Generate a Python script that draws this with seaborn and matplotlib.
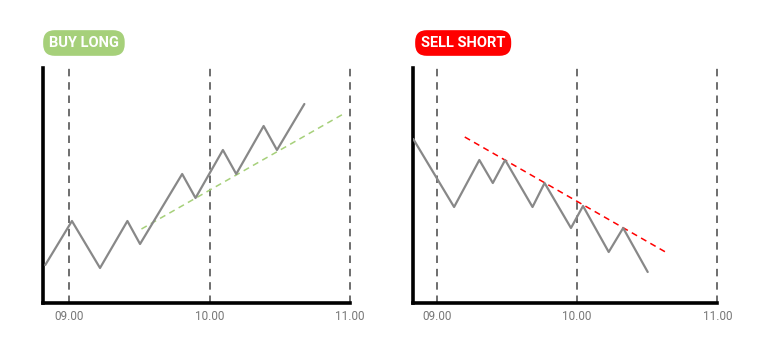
import matplotlib
matplotlib.use("Agg")
import matplotlib.pyplot as plt
import seaborn as sns
import pandas as pd

# ---- data ----
long_time = [8.83, 9.02, 9.22, 9.415, 9.505, 9.805, 9.90, 10.095, 10.19, 10.385, 10.48, 10.675]
long_price = [38, 82, 35, 82, 59, 129, 105, 153, 129, 177, 153, 199]
long_trend_time = [9.515, 10.965]
long_trend_price = [74, 190]

short_time = [8.833, 9.124, 9.304, 9.40, 9.488, 9.683, 9.769, 9.957, 10.043, 10.226, 10.329, 10.504]
short_price = [164, 96, 143, 120, 143, 96, 120, 75, 97, 51, 75, 31]
short_trend_time = [9.20, 10.643]
short_trend_price = [166, 50]

hours = [9.0, 10.0, 11.0]
hour_labels = ["09.00", "10.00", "11.00"]

sns.set_theme(style="white")
plt.rcParams['font.family'] = ['Roboto', 'DejaVu Sans']

fig = plt.figure(figsize=(7.68, 3.5), dpi=100)
ax1 = fig.add_axes([43/768, 47/350, 307/768, 235/350])
ax2 = fig.add_axes([412.7/768, 47/350, 304.6/768, 235/350])

panels = [
    (ax1, long_time, long_price, long_trend_time, long_trend_price, "#a6d07a", 8.814, "BUY LONG", 49/768),
    (ax2, short_time, short_price, short_trend_time, short_trend_price, "#ff0000", 8.829, "SELL SHORT", 421/768),
]

for ax, t, p, tt, tp, col, x0, label, bx in panels:
    for h in hours:
        ax.axvline(h, color="#555555", lw=1.2, ls=(0, (4.5, 3.5)), zorder=1, clip_on=False)
    df = pd.DataFrame({"t": t, "p": p})
    sns.lineplot(data=df, x="t", y="p", ax=ax, color="#888888", lw=1.6, zorder=3)
    dft = pd.DataFrame({"t": tt, "p": tp})
    sns.lineplot(data=dft, x="t", y="p", ax=ax, color=col, lw=1.1, ls=(0, (4, 3)), zorder=2)
    ax.set_xlim(x0, 11.0)
    ax.set_ylim(0, 235)
    ax.set_xlabel("")
    ax.set_ylabel("")
    ax.set_xticks(hours)
    ax.set_xticklabels(hour_labels)
    ax.set_yticks([])
    ax.tick_params(axis="x", length=0, pad=5, labelsize=8.5, labelcolor="#777777")
    for s in ["top", "right"]:
        ax.spines[s].set_visible(False)
    for s in ["left", "bottom"]:
        ax.spines[s].set_visible(True)
        ax.spines[s].set_color("black")
        ax.spines[s].set_linewidth(2.6)
    ax.patch.set_alpha(0)
    fig.text(bx, 1 - 43/350, label, ha="left", va="center", fontsize=10.5,
             fontweight="bold", color="white",
             bbox=dict(boxstyle="round,pad=0.4,rounding_size=0.8", fc=col, ec="none"))

fig.savefig("out.png", dpi=100)
